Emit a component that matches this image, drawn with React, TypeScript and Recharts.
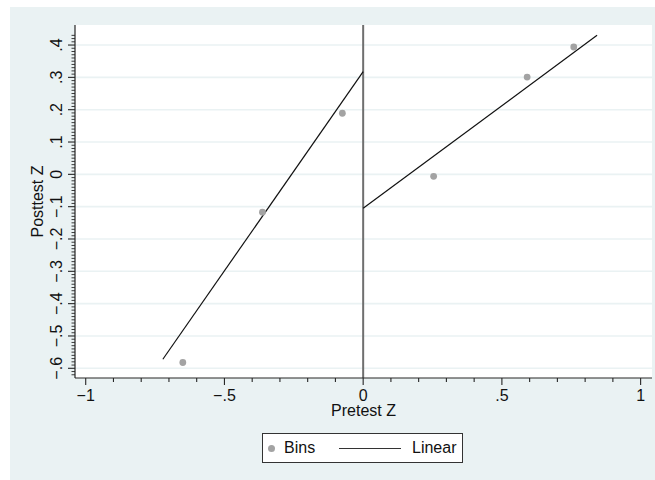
import { ComposedChart, Scatter, Line, XAxis, YAxis, ReferenceLine } from 'recharts';

// binned means
const binX = [-0.65, -0.363, -0.075, 0.254, 0.591, 0.759];
const binY = [-0.582, -0.117, 0.189, -0.006, 0.301, 0.394];

// linear fits on each side of the cutoff
const leftFitX = [-0.722, 0];
const leftFitY = [-0.572, 0.318];
const rightFitX = [0, 0.843];
const rightFitY = [-0.105, 0.43];

const cutoff = 0;

const xMajorTicks = [-1, -0.5, 0, 0.5, 1];
const xTickLabels = ['\u22121', '\u2212.5', '0', '.5', '1'];
const yMajorTicks = [0.4, 0.3, 0.2, 0.1, 0, -0.1, -0.2, -0.3, -0.4, -0.5, -0.6];
const yTickLabels = ['.4', '.3', '.2', '.1', '0', '\u2212.1', '\u2212.2', '\u2212.3', '\u2212.4', '\u2212.5', '\u2212.6'];

// minor ticks: x every .1, y every .01
const xTicks = Array.from({ length: 21 }, (_, i) => (i - 10) / 10);
const yTicks = Array.from({ length: 106 }, (_, i) => (i - 62) / 100);

const bins = binX.map((x, i) => ({ x, y: binY[i] }));
const leftFit = leftFitX.map((x, i) => ({ x, y: leftFitY[i] }));
const rightFit = rightFitX.map((x, i) => ({ x, y: rightFitY[i] }));

const BG = '#EAF2F3';
const AXIS = '#262626';
const FONT = '"Liberation Sans", Arial, Helvetica, sans-serif';
const FS = 16;

const findMajor = (v: number, majors: number[]) => majors.findIndex((m) => Math.abs(m - v) < 1e-6);

function XTick(props: any) {
  const { x, y, payload } = props;
  const idx = findMajor(payload.value, xMajorTicks);
  const major = idx >= 0;
  return (
    <g>
      <line x1={x} x2={x} y1={y} y2={y + (major ? 7 : 4)} stroke={AXIS} strokeWidth={1.1} />
      {major && (
        <text x={x} y={y + 23} textAnchor="middle" fontSize={FS} fill="#111" fontFamily={FONT}>
          {xTickLabels[idx]}
        </text>
      )}
    </g>
  );
}

function YTick(props: any) {
  const { x, y, payload } = props;
  const idx = findMajor(payload.value, yMajorTicks);
  const major = idx >= 0;
  const tx = x - 13;
  return (
    <g>
      <line x1={x - (major ? 7 : 3.5)} x2={x} y1={y} y2={y} stroke={AXIS} strokeWidth={major ? 1.1 : 0.9} />
      {major && (
        <text
          x={tx}
          y={y}
          transform={`rotate(-90 ${tx} ${y})`}
          textAnchor="middle"
          fontSize={FS}
          fill="#111"
          fontFamily={FONT}
        >
          {yTickLabels[idx]}
        </text>
      )}
    </g>
  );
}

const BinDot = (props: any) => <circle cx={props.cx} cy={props.cy} r={3.4} fill="#A3A3A3" />;

export default function App() {
  return (
    <div
      style={{
        position: 'absolute',
        left: 10,
        top: 7,
        width: 645,
        height: 473,
        background: BG,
        fontFamily: FONT,
      }}
    >
      <ComposedChart width={645} height={473} margin={{ top: 18, right: 3, left: 0, bottom: 0 }}>
        <rect x={65} y={18} width={577} height={353} fill="#fff" />
        <XAxis
          type="number"
          dataKey="x"
          domain={[-1.0386, 1.041]}
          allowDataOverflow
          ticks={xTicks}
          interval={0}
          tick={<XTick />}
          tickLine={false}
          tickSize={0}
          tickMargin={0}
          axisLine={{ stroke: AXIS, strokeWidth: 1.2 }}
          height={102}
          label={{ value: 'Pretest Z', position: 'insideTop', offset: 27, fontSize: FS, fill: '#111' }}
        />
        <YAxis
          type="number"
          dataKey="y"
          domain={[-0.63, 0.462]}
          allowDataOverflow
          ticks={yTicks}
          interval={0}
          tick={<YTick />}
          tickLine={false}
          tickSize={0}
          tickMargin={0}
          axisLine={{ stroke: AXIS, strokeWidth: 1.2 }}
          width={65}
          label={{
            value: 'Posttest Z',
            position: 'insideLeft',
            angle: -90,
            offset: 27,
            fontSize: FS,
            fill: '#111',
            style: { textAnchor: 'middle' },
          }}
        />
        {yMajorTicks.map((v) => (
          <ReferenceLine key={v} y={v} stroke={BG} strokeWidth={1.6} />
        ))}
        <ReferenceLine x={cutoff} stroke="#6F6F6F" strokeWidth={2} />
        <Scatter data={bins} fill="#A3A3A3" shape={<BinDot />} isAnimationActive={false} />
        <Line data={leftFit} dataKey="y" type="linear" stroke="#111" strokeWidth={1.2} dot={false} activeDot={false} isAnimationActive={false} />
        <Line data={rightFit} dataKey="y" type="linear" stroke="#111" strokeWidth={1.2} dot={false} activeDot={false} isAnimationActive={false} />
      </ComposedChart>
      <div
        style={{
          position: 'absolute',
          left: 252,
          top: 426,
          width: 199,
          height: 28,
          border: '1px solid #333',
          background: '#fff',
          fontSize: FS,
          color: '#111',
        }}
      >
        <span
          style={{
            position: 'absolute',
            left: 5,
            top: 11,
            width: 7,
            height: 7,
            borderRadius: '50%',
            background: '#A3A3A3',
          }}
        />
        <span style={{ position: 'absolute', left: 21, top: 5, lineHeight: '17px' }}>Bins</span>
        <span style={{ position: 'absolute', left: 76, top: 14, width: 62, height: 1.3, background: '#333' }} />
        <span style={{ position: 'absolute', left: 149, top: 5, lineHeight: '17px' }}>Linear</span>
      </div>
    </div>
  );
}
